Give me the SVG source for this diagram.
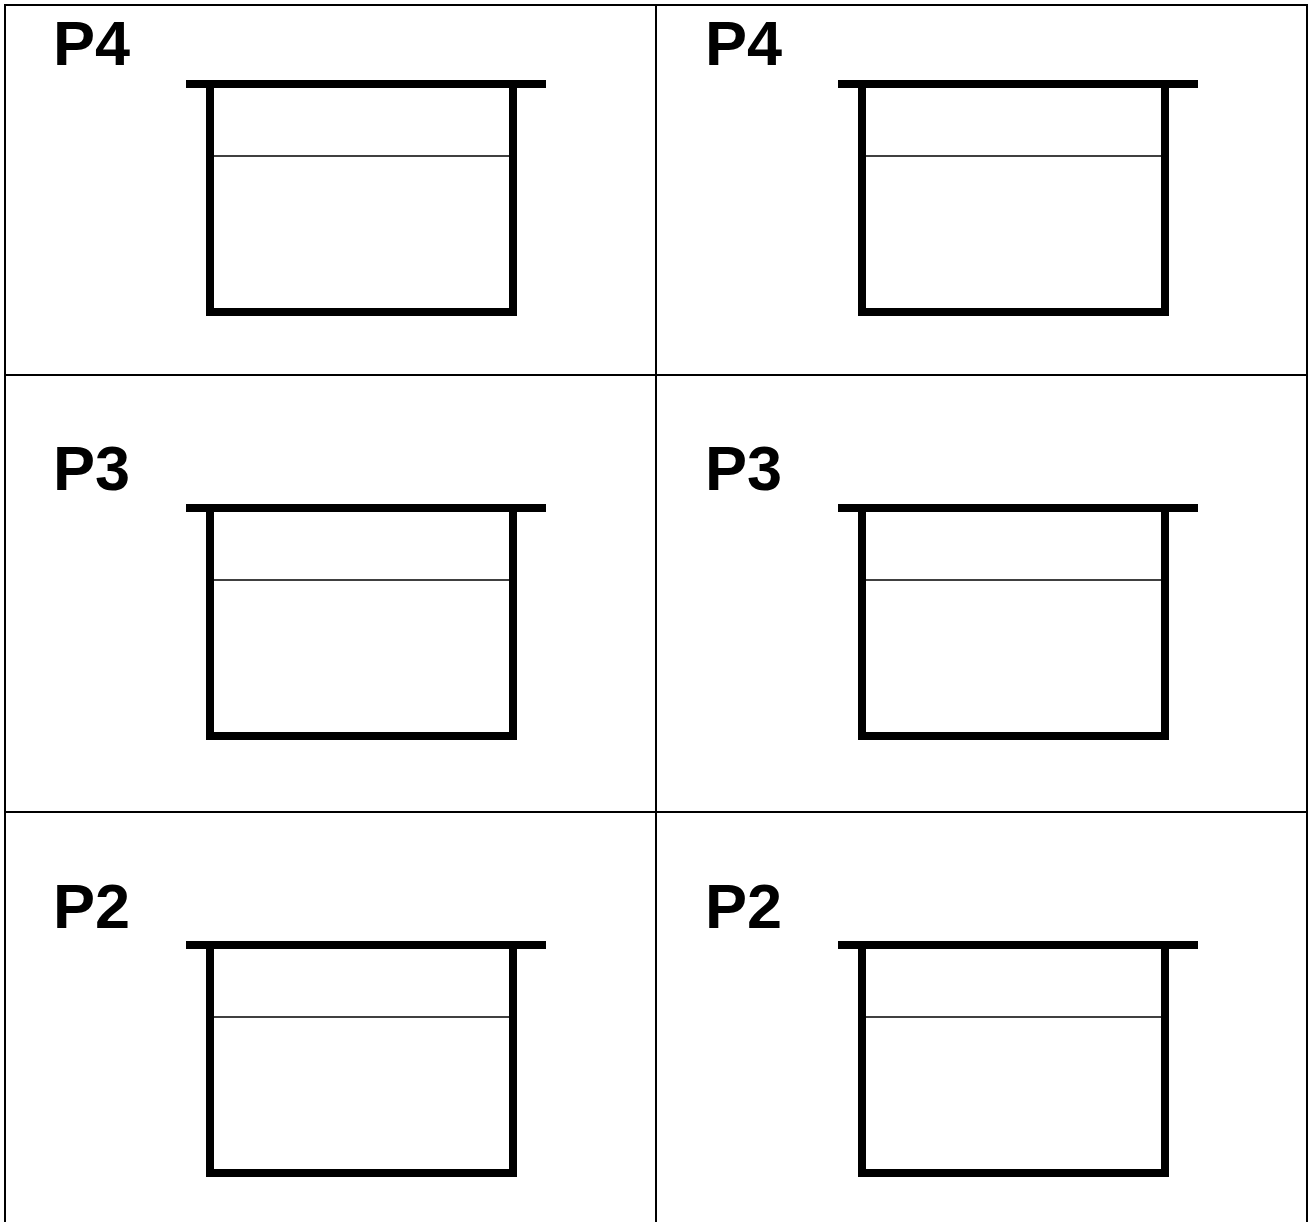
<svg xmlns="http://www.w3.org/2000/svg" width="1308" height="1222" viewBox="0 0 1308 1222">
<style>
.grid{stroke:#000;stroke-width:2;fill:none}
.bar{stroke:#000;stroke-width:8;fill:none}
.box{stroke:#000;stroke-width:8;fill:none}
.thin{stroke:#000;stroke-width:1.5;fill:none}
.lbl{font-family:"Liberation Sans",Arial,sans-serif;font-weight:bold;font-size:63px;fill:#000}
</style>
<rect width="1308" height="1222" fill="#fff"/>
<g id="grid">
<path class="grid" d="M5,1222 V5 H1307 V1222 M656,5 V1222 M5,375 H1307 M5,812 H1307"/>
</g>
<defs>
<g id="tank">
<path class="bar" d="M186,84 H546"/>
<path class="box" d="M210,84 V312 H513 V84"/>
<path class="thin" d="M214,156 H509"/>
</g>
</defs>
<g id="cell-p4-left"><text class="lbl" x="53" y="65">P4</text><use href="#tank"/></g>
<g id="cell-p4-right"><text class="lbl" x="705" y="65">P4</text><use href="#tank" x="652"/></g>
<g id="cell-p3-left"><text class="lbl" x="53" y="490">P3</text><use href="#tank" y="424"/></g>
<g id="cell-p3-right"><text class="lbl" x="705" y="490">P3</text><use href="#tank" x="652" y="424"/></g>
<g id="cell-p2-left"><text class="lbl" x="53" y="928">P2</text><use href="#tank" y="861"/></g>
<g id="cell-p2-right"><text class="lbl" x="705" y="928">P2</text><use href="#tank" x="652" y="861"/></g>
</svg>
